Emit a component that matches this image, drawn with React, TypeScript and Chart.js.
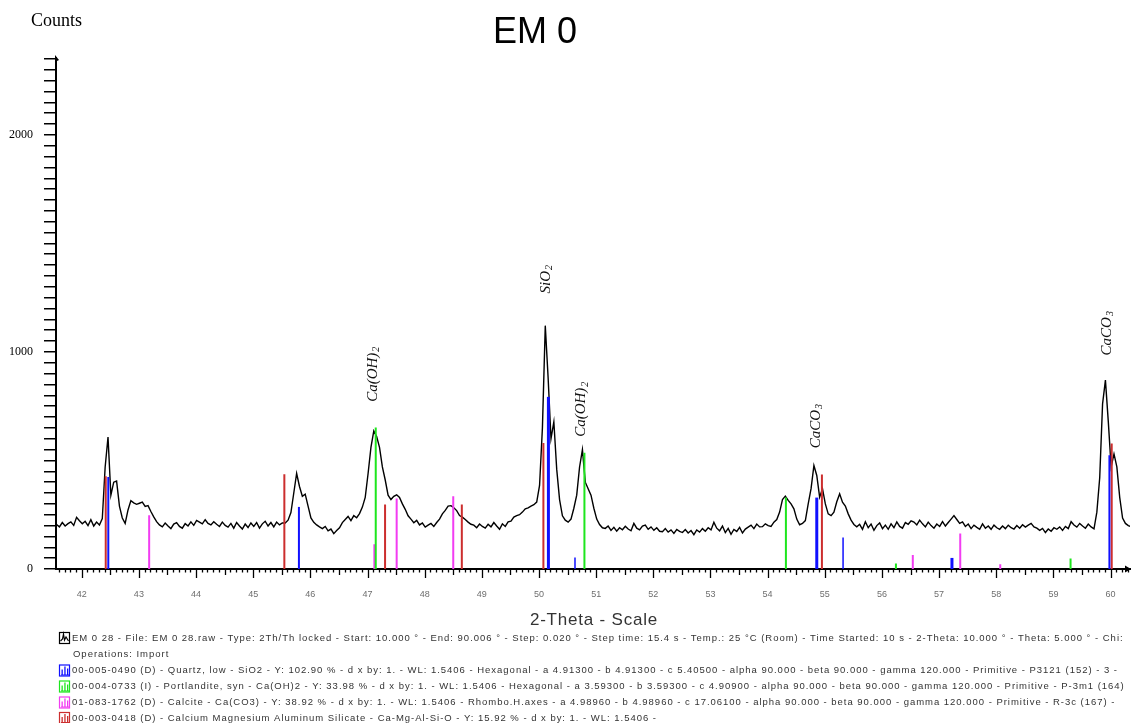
import React, { useEffect, useRef } from "react";
import { Chart, registerables } from "chart.js";

Chart.register(...registerables);

// ---- Data -----------------------------------------------------------------
const THETA_START = 41.56;
const THETA_STEP = 0.05;
const COUNTS: number[] = [
  205, 194, 214, 198, 209, 217, 201, 238, 222, 208,
  220, 200, 227, 198, 216, 203, 232, 470, 608, 340,
  400, 405, 290, 235, 210, 272, 315, 305, 298, 303,
  308, 288, 292, 265, 240, 218, 203, 194, 212, 198,
  186, 207, 214, 196, 188, 209, 198, 217, 201, 224,
  216, 208, 227, 210, 203, 218, 206, 196, 216, 201,
  193, 210, 188, 214, 198, 184, 207, 191, 212, 196,
  214, 188, 208, 220, 198, 214, 194, 216, 203, 212,
  212, 225, 260, 350, 440, 380, 335, 345, 290, 235,
  215, 203, 194, 186, 196, 176, 184, 163, 177, 190,
  214, 228, 242, 223, 246, 236, 255, 285, 330, 440,
  560, 636, 610, 560, 470, 410, 340, 320, 335, 342,
  330, 300, 275, 245, 230, 213, 224, 203, 212, 193,
  202, 210, 196, 214, 230, 254, 270, 290, 292, 282,
  269, 246, 239, 228, 216, 206, 202, 190, 207, 196,
  188, 206, 194, 214, 198, 183, 208, 196, 217, 220,
  239, 246, 250, 262, 277, 282, 290, 296, 308, 385,
  650, 1121, 880, 600, 678, 460, 320, 245, 225, 216,
  230, 280, 340, 470, 550, 400, 370, 340, 280, 230,
  205, 190, 187, 198, 178, 192, 174, 190, 181, 197,
  184, 176, 210, 188, 180, 198, 202, 183, 194, 178,
  190, 174, 172, 186, 170, 180, 164, 182, 173, 168,
  182, 166, 177, 158, 180, 170, 186, 174, 190, 180,
  215, 188, 176, 198, 168, 187, 160, 182, 173, 192,
  166, 184, 193, 202, 186, 207, 194, 195, 208, 200,
  196, 216, 228, 262, 320, 336, 316, 300, 277, 230,
  204, 210, 223, 300, 370, 477, 431, 331, 370, 300,
  254, 246, 262, 310, 346, 308, 290, 254, 225, 205,
  194, 206, 183, 218, 190, 207, 178, 200, 212, 186,
  202, 183, 208, 190, 217, 196, 188, 214, 206, 222,
  216, 203, 225, 208, 194, 216, 200, 188, 207, 196,
  218, 198, 214, 230, 246, 228, 210, 217, 196, 207,
  186, 202, 192, 183, 208, 188, 198, 183, 202, 190,
  183, 198, 186, 202, 190, 184, 200, 188, 204, 193,
  202, 210, 194, 188, 178, 187, 168, 184, 174, 190,
  183, 194, 178, 196, 186, 218, 203, 193, 210, 198,
  188, 207, 194, 185, 262, 420, 760, 870, 680, 470,
  530, 470, 330, 235, 210, 200, 195,
];

// Reference patterns (stick positions in 2-Theta and heights in counts)
const QUARTZ_POS = [42.465, 45.8, 50.165, 50.63, 54.86, 55.32, 57.225, 59.98];
const QUARTZ_INT = [424, 286, 793, 53, 329, 145, 51, 524];
const PORTLANDITE_POS = [47.144, 50.795, 54.32, 56.245, 59.3];
const PORTLANDITE_INT = [652, 535, 329, 25, 48];
const CALCITE_POS = [43.18, 47.12, 47.51, 48.5, 56.54, 57.37, 58.07];
const CALCITE_INT = [248, 114, 325, 335, 64, 164, 22];
const CMAS_POS = [42.42, 45.545, 47.307, 48.65, 50.077, 54.95, 60.02];
const CMAS_INT = [427, 437, 297, 297, 581, 435, 578];

// Tick labels
const X_TICK_LABELS = [42, 43, 44, 45, 46, 47, 48, 49, 50, 51, 52, 53, 54, 55, 56, 57, 58, 59, 60];
const Y_TICK_LABELS = [0, 1000, 2000];
const Y_MINOR_STEP = 50;
const X_MINOR_STEP = 0.1;

// Peak labels: main text, subscript, 2-Theta, counts
const ANNOT_TEXT = ["Ca(OH)", "SiO", "Ca(OH)", "CaCO", "CaCO"];
const ANNOT_SUB = ["2", "2", "2", "3", "3"];
const ANNOT_X = [47.09, 50.12, 50.735, 54.84, 59.93];
const ANNOT_Y = [897, 1335, 736, 658, 1086];

const LEGEND_LINES = [
  "EM 0 28 - File: EM 0 28.raw - Type: 2Th/Th locked - Start: 10.000 ° - End: 90.006 ° - Step: 0.020 ° - Step time: 15.4 s - Temp.: 25 °C (Room) - Time Started: 10 s - 2-Theta: 10.000 ° - Theta: 5.000 ° - Chi:",
  "Operations: Import",
  "00-005-0490 (D) - Quartz, low - SiO2 - Y: 102.90 % - d x by: 1. - WL: 1.5406 - Hexagonal - a 4.91300 - b 4.91300 - c 5.40500 - alpha 90.000 - beta 90.000 - gamma 120.000 - Primitive - P3121 (152) - 3 -",
  "00-004-0733 (I) - Portlandite, syn - Ca(OH)2 - Y: 33.98 % - d x by: 1. - WL: 1.5406 - Hexagonal - a 3.59300 - b 3.59300 - c 4.90900 - alpha 90.000 - beta 90.000 - gamma 120.000 - Primitive - P-3m1 (164)",
  "01-083-1762 (D) - Calcite - Ca(CO3) - Y: 38.92 % - d x by: 1. - WL: 1.5406 - Rhombo.H.axes - a 4.98960 - b 4.98960 - c 17.06100 - alpha 90.000 - beta 90.000 - gamma 120.000 - Primitive - R-3c (167) -",
  "00-003-0418 (D) - Calcium Magnesium Aluminum Silicate - Ca-Mg-Al-Si-O - Y: 15.92 % - d x by: 1. - WL: 1.5406 -",
];

// ---- Styles ---------------------------------------------------------------
const COL_QUARTZ = "#1010ff";
const COL_PORT = "#1ee61e";
const COL_CALC = "#f23cf2";
const COL_CMAS = "#cc2e2e";
const QUARTZ_WIDTH = [2, 2, 3, 1.5, 3, 1.5, 3, 2];
const LEGEND_ICON_COLORS = ["#000", null, COL_QUARTZ, COL_PORT, COL_CALC, COL_CMAS];
const LEGEND_Y = [638, 654, 670.5, 686.5, 702.5, 718];

function sticks(pos: number[], h: number[]) {
  const out: { x: number; y: number | null }[] = [];
  pos.forEach((p, i) => {
    out.push({ x: p, y: 0 });
    out.push({ x: p, y: h[i] });
    out.push({ x: p, y: null });
  });
  return out;
}

const decorPlugin = {
  id: "decor",
  afterDraw(chart: any) {
    const { ctx, chartArea, scales } = chart;
    const xs = scales.x;
    const ys = scales.y;
    ctx.save();

    // x minor / major tick marks
    ctx.strokeStyle = "#000";
    ctx.lineWidth = 1.3;
    const kStart = Math.ceil(xs.min / X_MINOR_STEP - 1e-6);
    const kEnd = Math.floor(xs.max / X_MINOR_STEP + 1e-6);
    for (let k = kStart; k <= kEnd; k++) {
      const px = Math.round(xs.getPixelForValue(k * X_MINOR_STEP)) + 0.5;
      const len = k % 10 === 0 ? 9 : k % 5 === 0 ? 6 : 3.5;
      ctx.beginPath();
      ctx.moveTo(px, chartArea.bottom);
      ctx.lineTo(px, chartArea.bottom + len);
      ctx.stroke();
    }

    // axis arrows
    ctx.fillStyle = "#000";
    ctx.beginPath();
    ctx.moveTo(chartArea.left - 1, chartArea.top - 3);
    ctx.lineTo(chartArea.left + 3, chartArea.top + 2);
    ctx.lineTo(chartArea.left - 1, chartArea.top + 4);
    ctx.closePath();
    ctx.fill();
    ctx.beginPath();
    ctx.moveTo(chartArea.right + 1, chartArea.bottom);
    ctx.lineTo(chartArea.right - 5, chartArea.bottom - 3.5);
    ctx.lineTo(chartArea.right - 5, chartArea.bottom + 3.5);
    ctx.closePath();
    ctx.fill();

    // peak annotations (rotated)
    ANNOT_TEXT.forEach((t, i) => {
      const px = xs.getPixelForValue(ANNOT_X[i]);
      const py = ys.getPixelForValue(ANNOT_Y[i]);
      ctx.save();
      ctx.translate(px, py);
      ctx.rotate(-Math.PI / 2);
      ctx.fillStyle = "#111";
      ctx.textBaseline = "middle";
      ctx.textAlign = "left";
      const mainFont = "italic 15px 'Liberation Serif', serif";
      const subFont = "italic 10px 'Liberation Serif', serif";
      ctx.font = mainFont;
      const wm = ctx.measureText(t).width;
      ctx.font = subFont;
      const ws = ctx.measureText(ANNOT_SUB[i]).width;
      const start = -(wm + ws + 1) / 2;
      ctx.font = mainFont;
      ctx.fillText(t, start, 0);
      ctx.font = subFont;
      ctx.fillText(ANNOT_SUB[i], start + wm + 1, 4);
      ctx.restore();
    });

    // title
    ctx.fillStyle = "#000";
    ctx.textAlign = "center";
    ctx.textBaseline = "middle";
    ctx.font = "36px 'Liberation Sans', Arial, sans-serif";
    ctx.fillText("EM 0", 535, 33);

    // y axis label
    ctx.textAlign = "left";
    ctx.textBaseline = "alphabetic";
    ctx.font = "18px 'Liberation Serif', serif";
    ctx.fillText("Counts", 31, 26);

    // x axis title
    ctx.fillStyle = "#333";
    ctx.textAlign = "center";
    ctx.textBaseline = "middle";
    ctx.font = "17px 'Liberation Sans', Arial, sans-serif";
    (ctx as any).letterSpacing = "0.8px";
    ctx.fillText("2-Theta - Scale", 594, 620);
    (ctx as any).letterSpacing = "0px";

    // legend
    ctx.font = "9.5px 'Liberation Sans', Arial, sans-serif";
    ctx.textAlign = "left";
    ctx.textBaseline = "middle";
    const refW = ctx.measureText(LEGEND_LINES[2]).width;
    const ls = (1117 - 72 - refW) / (LEGEND_LINES[2].length - 1);
    LEGEND_LINES.forEach((line, i) => {
      const y = LEGEND_Y[i];
      const col = LEGEND_ICON_COLORS[i];
      if (col) {
        ctx.strokeStyle = col;
        ctx.lineWidth = 1.2;
        ctx.strokeRect(59.5, y - 5.5, 10, 11);
        if (i === 0) {
          ctx.beginPath();
          ctx.moveTo(60.5, y + 3);
          ctx.lineTo(62.5, y + 1);
          ctx.lineTo(63.5, y - 4);
          ctx.lineTo(64.5, y + 2);
          ctx.lineTo(66, y - 1);
          ctx.lineTo(68.5, y + 3);
          ctx.stroke();
        } else {
          ctx.fillStyle = col;
          ctx.fillRect(61.5, y - 1, 1.3, 5.5);
          ctx.fillRect(64.3, y - 4, 1.3, 8.5);
          ctx.fillRect(67, y - 2, 1.3, 6.5);
          ctx.fillRect(61, y + 4, 8, 1);
        }
      }
      ctx.fillStyle = "#333";
      (ctx as any).letterSpacing = ls + "px";
      ctx.fillText(line, i === 1 ? 73 : 72, y);
      (ctx as any).letterSpacing = "0px";
    });

    ctx.restore();
  },
};

export default function App() {
  const ref = useRef<HTMLCanvasElement | null>(null);

  useEffect(() => {
    if (!ref.current) return;
    const pattern = COUNTS.map((c, i) => ({ x: THETA_START + i * THETA_STEP, y: c }));
    const stickSet = (label: string, pos: number[], h: number[], color: string, widths?: number[]) => ({
      label,
      data: sticks(pos, h),
      borderColor: color,
      borderWidth: 2,
      pointRadius: 0,
      spanGaps: false,
      tension: 0,
      segment: widths
        ? { borderWidth: (c: any) => widths[Math.floor(c.p0DataIndex / 3)] ?? 2 }
        : undefined,
    });

    const chart = new Chart(ref.current, {
      type: "line",
      data: {
        datasets: [
          stickSet("Quartz", QUARTZ_POS, QUARTZ_INT, COL_QUARTZ, QUARTZ_WIDTH) as any,
          stickSet("Portlandite", PORTLANDITE_POS, PORTLANDITE_INT, COL_PORT) as any,
          stickSet("Calcite", CALCITE_POS, CALCITE_INT, COL_CALC) as any,
          stickSet("Ca-Mg-Al-Si-O", CMAS_POS, CMAS_INT, COL_CMAS) as any,
          {
            label: "EM 0 28",
            data: pattern,
            borderColor: "#000",
            borderWidth: 1.4,
            pointRadius: 0,
            tension: 0,
          } as any,
        ],
      },
      options: {
        animation: false,
        responsive: false,
        devicePixelRatio: 1,
        layout: { padding: { top: 58, right: 1, left: 0, bottom: 0 } },
        plugins: {
          legend: { display: false },
          title: { display: false },
          tooltip: { enabled: false },
        },
        scales: {
          x: {
            type: "linear",
            position: "bottom",
            min: 41.55,
            max: 60.34,
            grid: { display: false },
            border: { display: true, color: "#000", width: 2 },
            ticks: {
              autoSkip: false,
              maxRotation: 0,
              padding: 12,
              color: "#6e6e6e",
              font: { family: "'Liberation Sans', Arial, sans-serif", size: 9 },
              callback: (v: any) => String(v),
            },
            afterBuildTicks: (s: any) => {
              s.ticks = X_TICK_LABELS.map((v) => ({ value: v }));
            },
            afterFit: (s: any) => {
              s.height = 154;
            },
          },
          y: {
            type: "linear",
            min: 0,
            max: 2354,
            grid: {
              display: true,
              drawOnChartArea: false,
              drawTicks: true,
              tickLength: 12,
              color: "#000",
              lineWidth: 1.5,
            },
            border: { display: true, color: "#000", width: 2 },
            ticks: {
              autoSkip: false,
              padding: 11,
              color: "#000",
              font: { family: "'Liberation Serif', serif", size: 12 },
              callback: (v: any) => (Y_TICK_LABELS.includes(Number(v)) ? String(v) : ""),
            },
            afterBuildTicks: (s: any) => {
              const t: { value: number }[] = [];
              for (let v = 0; v <= s.max; v += Y_MINOR_STEP) t.push({ value: v });
              s.ticks = t;
            },
            afterFit: (s: any) => {
              s.width = 56;
            },
          },
        },
      },
      plugins: [decorPlugin],
    });
    return () => chart.destroy();
  }, []);

  return (
    <div style={{ position: "fixed", left: 0, top: 0, width: 1131, height: 723, background: "#fff" }}>
      <canvas ref={ref} width={1131} height={723} style={{ display: "block" }} />
    </div>
  );
}
